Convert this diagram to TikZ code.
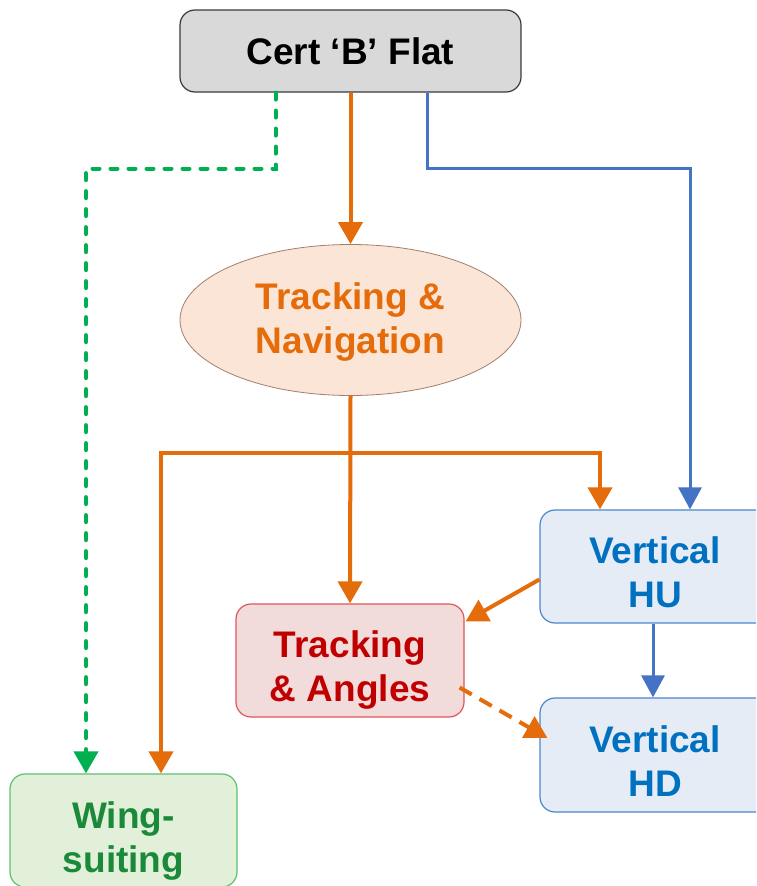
\documentclass[tikz,border=0pt]{standalone}
\usepackage{fontspec}
\setmainfont{Liberation Sans}
\usetikzlibrary{arrows.meta,shapes.geometric}
\definecolor{certfill}{HTML}{D9D9D9}
\definecolor{certdraw}{HTML}{3A3A3A}
\definecolor{orng}{HTML}{E46C0A}
\definecolor{blu}{HTML}{4472C4}
\definecolor{grn}{HTML}{00B050}
\definecolor{tnfill}{HTML}{FBE5D6}
\definecolor{tndraw}{HTML}{A0806A}
\definecolor{tafill}{HTML}{F2DCDB}
\definecolor{tadraw}{HTML}{E05555}
\definecolor{tatext}{HTML}{C00000}
\definecolor{vfill}{HTML}{E6ECF5}
\definecolor{vdraw}{HTML}{4A86D0}
\definecolor{vtext}{HTML}{0070C0}
\definecolor{wfill}{HTML}{E2F0D9}
\definecolor{wdraw}{HTML}{5CC070}
\definecolor{wtext}{HTML}{1A8A3A}
\newcommand\upstrut[1]{\rule{0pt}{#1}}
\tikzset{
  lbl/.style={font=\bfseries\fontsize{37}{44}\selectfont, align=center, inner sep=0pt},
  rbox/.style={lbl, rectangle, rounded corners=15pt, line width=1.2pt},
  oarrow/.style={draw=orng, line width=4pt, -{Triangle[length=22pt,width=24pt]}, orng},
  barrow/.style={draw=blu, line width=3pt, -{Triangle[length=22pt,width=23pt]}, blu},
  garrow/.style={draw=grn, line width=4pt, line cap=round, dash pattern=on 7pt off 11pt, -{Triangle[length=22pt,width=24pt]}, grn},
  odash/.style={draw=orng, line width=4pt, dash pattern=on 14pt off 9pt, -{Triangle[length=22pt,width=24pt]}, orng}
}
\begin{document}
\begin{tikzpicture}[x=1pt,y=-1pt]
\useasboundingbox (0,0) rectangle (756,886);
\clip (0,0) rectangle (756,886);
\node[rbox, fill=certfill, draw=certdraw, minimum width=341pt, minimum height=82pt, text=black] (cert) at (350.5,51) {Cert ‘B’ Flat};
\node[lbl, ellipse, fill=tnfill, draw=tndraw, line width=0.8pt, minimum width=341pt, minimum height=151pt, text=orng] (tn) at (350.5,320) {\upstrut{30pt}Tracking \&\\Navigation};
\node[rbox, fill=tafill, draw=tadraw, minimum width=228pt, minimum height=113pt, text=tatext] (ta) at (350,660.5) {\upstrut{46pt}Tracking\\\& Angles};
\node[rbox, fill=vfill, draw=vdraw, minimum width=230pt, minimum height=113pt, text=vtext] (vhu) at (655,566.5) {\upstrut{38pt}Vertical\\HU};
\node[rbox, fill=vfill, draw=vdraw, minimum width=230pt, minimum height=114pt, text=vtext] (vhd) at (655,755) {\upstrut{39pt}Vertical\\HD};
\node[rbox, fill=wfill, draw=wdraw, minimum width=227pt, minimum height=113pt, text=wtext] (wing) at (123.5,830.5) {\upstrut{47pt}Wing-\\suiting};
\coordinate (br) at (350,453);
% connectors
\draw[garrow] ([xshift=-75pt]cert.south) -- ++(0,76) -| ([xshift=-37.5pt]wing.north);
\draw[barrow] ([xshift=76.5pt]cert.south) -- ++(0,76) -| ([xshift=35pt]vhu.north);
\draw[oarrow] (cert.south) -- (tn.north);
\draw[oarrow] (tn.south) -- (ta.north);
\draw[oarrow] (br) -| ([xshift=37.5pt]wing.north);
\draw[oarrow] (br) -| ([xshift=-55pt]vhu.north);
\draw[oarrow] ([yshift=-13pt]vhu.west) -- ([xshift=1pt,yshift=-18pt]ta.north east);
\draw[barrow] ([xshift=-2pt]vhu.south) -- ([xshift=-2pt]vhd.north);
\draw[odash] ([xshift=-5pt,yshift=-27pt]ta.east) -- ([xshift=8pt,yshift=17pt]vhd.west);
\end{tikzpicture}
\end{document}
